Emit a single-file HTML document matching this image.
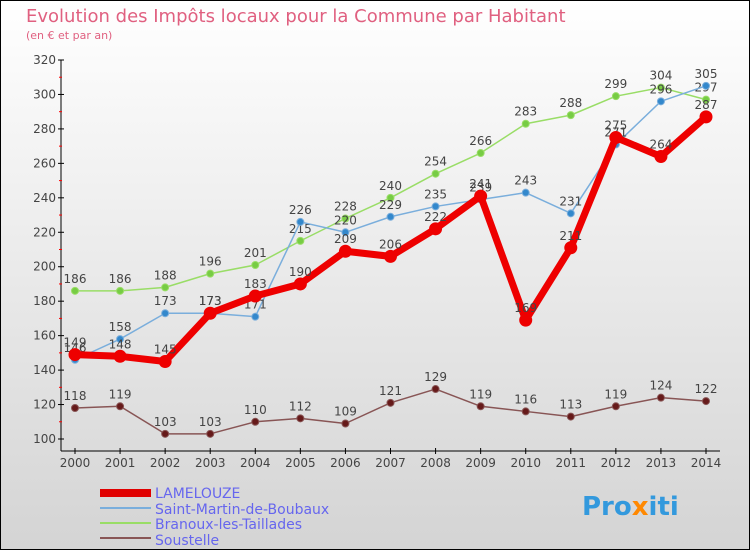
<!DOCTYPE html>
<html><head><meta charset="utf-8"><style>
body{margin:0;width:750px;height:550px;overflow:hidden;font-family:"DejaVu Sans","Liberation Sans",sans-serif}
svg{display:block}
</style></head><body>
<svg id="c" width="750" height="550" viewBox="0 0 750 550" xmlns="http://www.w3.org/2000/svg">
<defs><linearGradient id="bg" x1="0" y1="0" x2="0" y2="1"><stop offset="0" stop-color="#ffffff"/><stop offset="1" stop-color="#d4d4d4"/></linearGradient></defs>
<rect x="0.5" y="0.5" width="749" height="549" fill="url(#bg)" stroke="#000"/>
<text x="26" y="22" font-size="18" fill="#e06080">Evolution des Impôts locaux pour la Commune par Habitant</text>
<text x="26" y="39" font-size="11" fill="#e06080">(en € et par an)</text>
<g id="axes"></g><g id="series"></g>
<g>
<rect x="100" y="489" width="51" height="8" fill="#e00000"/><text x="155" y="498" font-size="14" fill="#6666ee">LAMELOUZE</text>
<line x1="100" y1="508" x2="151" y2="508" stroke="#7aaedc" stroke-width="2"/><text x="155" y="514" font-size="14" fill="#6666ee">Saint-Martin-de-Boubaux</text>
<line x1="100" y1="523" x2="151" y2="523" stroke="#99dd66" stroke-width="2"/><text x="155" y="529" font-size="14" fill="#6666ee">Branoux-les-Taillades</text>
<line x1="100" y1="538" x2="151" y2="538" stroke="#885555" stroke-width="2"/><text x="155" y="545" font-size="14" fill="#6666ee">Soustelle</text>
</g>
<text x="582" y="515" font-size="26" font-weight="bold" fill="#3399dd">Pro<tspan fill="#ff8800">x</tspan>iti</text>
</svg>
<script>
const years=["2000","2001","2002","2003","2004","2005","2006","2007","2008","2009","2010","2011","2012","2013","2014"];
const yTicks=[100,120,140,160,180,200,220,240,260,280,300,320];
const lamelouze=[149,148,145,173,183,190,209,206,222,241,169,211,275,264,287];
const saintMartin=[146,158,173,173,171,226,220,229,235,239,243,231,271,296,305];
const branoux=[186,186,188,196,201,215,228,240,254,266,283,288,299,304,297];
const soustelle=[118,119,103,103,110,112,109,121,129,119,116,113,119,124,122];
const NS="http://www.w3.org/2000/svg";
const xS=i=>75+i*(706-75)/14;
const yS=v=>439-(v-100)*(379/220);
function mk(t,a,p){const e=document.createElementNS(NS,t);for(const k in a)e.setAttribute(k,a[k]);p.appendChild(e);return e;}
const ax=document.getElementById('axes');
mk('line',{x1:61,y1:60,x2:61,y2:451,stroke:'#000'},ax);
mk('line',{x1:61,y1:451,x2:720,y2:451,stroke:'#000'},ax);
yTicks.forEach(v=>{const y=yS(v);
 mk('line',{x1:58,y1:y,x2:64,y2:y,stroke:'#000'},ax);
 const t=mk('text',{x:56,y:y+4,'font-size':12,'text-anchor':'end',fill:'#444'},ax);t.textContent=v;
 
 
 if(v<320){const m=mk('line',{x1:59,y1:yS(v+10),x2:62,y2:yS(v+10),stroke:'#f00'},ax);}
});
years.forEach((yr,i)=>{const x=xS(i);
 mk('line',{x1:x,y1:448,x2:x,y2:454,stroke:'#000'},ax);
 const t=mk('text',{x:x,y:467,'font-size':12,'text-anchor':'middle',fill:'#444'},ax);t.textContent=yr;
 
 
});
const sg=document.getElementById('series');
function draw(name,data,color,w,r,dot){
 const g=mk('g',{},sg);
 
 
 mk('polyline',{points:data.map((v,i)=>xS(i)+','+yS(v)).join(' '),fill:'none',stroke:color,'stroke-width':w,'stroke-linejoin':'round'},g);
 data.forEach((v,i)=>{const c=mk('circle',{cx:xS(i),cy:yS(v),r:r,fill:dot,stroke:color},g);
  
  
  const t=mk('text',{x:xS(i),y:yS(v)-8,'font-size':12,'text-anchor':'middle',fill:'#444'},g);t.textContent=v;
  
  });
}
draw('soustelle-series',soustelle,'#885555',1.5,3.5,'#661a1a');
draw('branoux-series',branoux,'#99dd66',1.5,3.5,'#77cc44');
draw('saint-martin-series',saintMartin,'#7aaedc',1.5,3.5,'#3388cc');
draw('lamelouze-series',lamelouze,'#ee0000',7,6,'#ee0000');
</script>
</body></html>
